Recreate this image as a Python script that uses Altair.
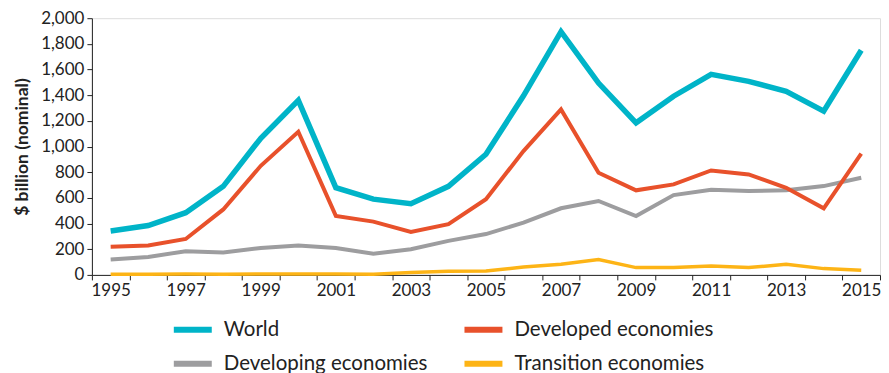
import altair as alt
import pandas as pd

years = [str(y) for y in range(1995, 2016)]
world = [342, 385, 485, 690, 1065, 1360, 680, 590, 555, 690, 940, 1395, 1895, 1495, 1185, 1392, 1562, 1508, 1430, 1276, 1750]
developed = [220, 230, 280, 510, 850, 1115, 460, 415, 335, 395, 590, 965, 1289, 796, 659, 705, 814, 783, 679, 519, 944]
developing = [120, 140, 185, 175, 210, 230, 210, 165, 200, 265, 318, 407, 519, 576, 459, 622, 664, 653, 659, 692, 757]
transition = [5, 6, 7, 6, 7, 7, 8, 6, 18, 28, 30, 62, 83, 119, 57, 57, 70, 57, 83, 49, 37]

series_names = ["World", "Developing economies", "Developed economies", "Transition economies"]
colors = ["#00B4C8", "#9D9D9F", "#E8512B", "#FDB416"]
series_vals = [world, developing, developed, transition]
widths = [5.5, 4, 4, 3.5]

rows = []
for name, vals, w in zip(series_names, series_vals, widths):
    for y, v in zip(years, vals):
        rows.append({"year": y, "value": v, "series": name, "w": w})
df = pd.DataFrame(rows)

FONT = "Lato"

chart = alt.Chart(df).mark_line(strokeJoin="miter").encode(
    x=alt.X("year:O", title=None, bandPosition=0.5,
            scale=alt.Scale(type="band", paddingInner=0, paddingOuter=0),
            axis=alt.Axis(tickBand="extent", labelAngle=0,
                          labelExpr="parseInt(datum.value) % 2 == 1 ? datum.label : ''",
                          labelFontSize=17, labelColor="#222", domainColor="#222",
                          tickColor="#222", tickSize=5, labelPadding=3, grid=False)),
    y=alt.Y("value:Q", title="$ billion (nominal)",
            scale=alt.Scale(domain=[0, 2000], nice=False),
            axis=alt.Axis(values=list(range(0, 2001, 200)), format=",d",
                          labelFontSize=17, labelColor="#222", domainColor="#222",
                          tickColor="#222", tickSize=5, labelPadding=3, grid=False,
                          titleFontSize=17.5, titleFontWeight="bold", titleColor="#222",
                          titlePadding=9)),
    color=alt.Color("series:N", sort=series_names,
                    scale=alt.Scale(domain=series_names, range=colors),
                    legend=alt.Legend(title=None, orient="none", legendX=79, legendY=290,
                                      columns=2, symbolType="stroke", symbolSize=1444,
                                      symbolStrokeWidth=6, labelFontSize=20.5, labelLimit=0,
                                      labelColor="#222", labelOffset=9,
                                      columnPadding=25, rowPadding=-13, padding=0)),
    strokeWidth=alt.StrokeWidth("w:Q", scale=None, legend=None),
).properties(
    width=789, height=257,
    padding={"left": 5, "top": 1, "right": 0, "bottom": 0},
).configure_view(
    stroke="#222", strokeWidth=1.2
).configure(font=FONT)

chart.save("out.html", embed_options={"renderer": "svg", "actions": False})
